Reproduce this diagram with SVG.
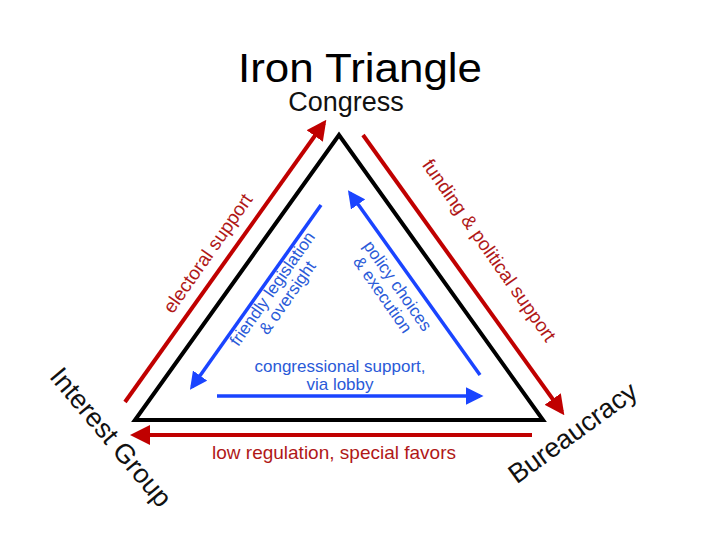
<svg xmlns="http://www.w3.org/2000/svg" width="720" height="540" viewBox="0 0 720 540">
<style>
text{font-family:"Liberation Sans",Arial,sans-serif;text-anchor:middle}
.r{stroke:#c00000;stroke-width:4;fill:none}
.b{stroke:#1a44ff;stroke-width:3.5;fill:none}
.rt{fill:#b01818;font-size:19px}
.bt{fill:#2a5ad8;font-size:17px}
.n{font-size:27px;fill:#111}
</style>
<defs>
<marker id="ar" viewBox="0 0 10 10" refX="8" refY="5" markerWidth="5" markerHeight="5" markerUnits="strokeWidth" orient="auto"><path d="M0,0L10,5L0,10z" fill="#c00000"/></marker>
<marker id="ab" viewBox="0 0 10 10" refX="8" refY="5" markerWidth="5" markerHeight="5" markerUnits="strokeWidth" orient="auto"><path d="M0,0L10,5L0,10z" fill="#1a44ff"/></marker>
</defs>
<rect width="720" height="540" fill="#fff"/>
<text x="360" y="82" font-size="40" fill="#000" textLength="244" lengthAdjust="spacingAndGlyphs">Iron Triangle</text>
<g id="triangle"><polygon points="339,135 135,420 543,420" fill="none" stroke="#000" stroke-width="4"/></g>
<g id="congress"><text class="n" x="346" y="111">Congress</text></g>
<g id="interest-group"><text class="n" font-size="28" transform="translate(104,443) rotate(50)">Interest Group</text></g>
<g id="bureaucracy"><text class="n" font-size="28" transform="translate(578,440) rotate(-36)">Bureaucracy</text></g>
<g id="connectors">
<line class="r" x1="125" y1="402" x2="324" y2="123" marker-end="url(#ar)"/>
<line class="r" x1="363" y1="135" x2="562" y2="412" marker-end="url(#ar)"/>
<line class="r" x1="532" y1="435" x2="134" y2="435" marker-end="url(#ar)"/>
<line class="b" x1="321" y1="205" x2="192" y2="387" marker-end="url(#ab)"/>
<line class="b" x1="480" y1="375" x2="350" y2="193" marker-end="url(#ab)"/>
<line class="b" x1="217" y1="396" x2="480" y2="396" marker-end="url(#ab)"/>
</g>
<g id="labels">
<text class="rt" transform="translate(213,257) rotate(-55)">electoral support</text>
<text class="rt" transform="translate(484,254) rotate(55)">funding &amp; political support</text>
<text class="bt" transform="translate(277,292) rotate(-55)">friendly legislation</text>
<text class="bt" transform="translate(292,301) rotate(-55)">&amp; oversight</text>
<text class="bt" transform="translate(393,289) rotate(55)">policy choices</text>
<text class="bt" transform="translate(378,298) rotate(55)">&amp; execution</text>
<text class="bt" x="340" y="372">congressional support,</text>
<text class="bt" x="340" y="390">via lobby</text>
<text class="rt" x="334" y="459">low regulation, special favors</text>
</g>
</svg>
